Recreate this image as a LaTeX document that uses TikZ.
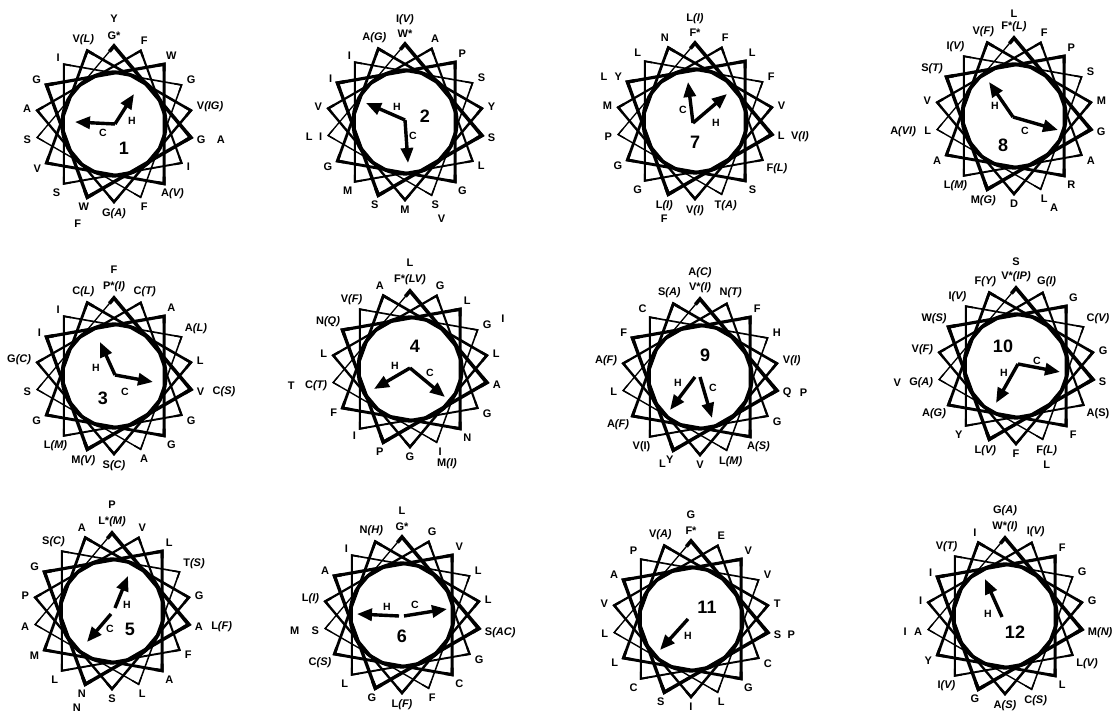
\documentclass[tikz,border=0pt]{standalone}
\usepackage{fontspec}
\setmainfont{Liberation Sans}
\usetikzlibrary{calc,arrows.meta}
\tikzset{
  lbl/.style={inner sep=0pt, font=\bfseries\fontsize{11}{11}\selectfont},
  num/.style={inner sep=0pt, font=\bfseries\fontsize{18}{18}\selectfont},
  hc/.style={inner sep=0pt, font=\bfseries\fontsize{10.5}{10.5}\selectfont},
  vec/.style={line width=3.4pt, -{Triangle[length=15pt,width=12pt]}},
}
\newcommand{\wheelbody}{%
  \foreach \k in {0,...,17} {\coordinate (v\k) at ({90-100*\k}:78);}
  \foreach \k in {0,...,17} {
    \pgfmathtruncatemacro{\kp}{mod(\k+1,18)}
    \pgfmathtruncatemacro{\kpp}{mod(\k+2,18)}
    \pgfmathtruncatemacro{\km}{mod(\k+17,18)}
    \pgfmathsetmacro{\wd}{\k<17 ? 3.6-\k*0.14 : 1.3}
    \draw[line width=\wd pt, line join=miter]
      ($(v\k)!0.06!(v\km)$) -- (v\k) -- (v\kp) -- ($(v\kp)!0.06!(v\kpp)$);
  }
  \draw[line width=3.2pt] (0,0) circle (52pt);
}
\newcommand{\lab}[3]{%
  \pgfmathtruncatemacro{\wth}{90-20*#2}%
  \pgfmathtruncatemacro{\wan}{mod(270-20*#2+720,360)}%
  \node[lbl,anchor=\wan] (#1l#2) at (\wth:84) {#3};}
\newcommand{\olab}[5]{%
  \pgfmathtruncatemacro{\oan}{mod(#3+180,360)}%
  \node[lbl,anchor=\oan] (#1o#2) at ($(#1l#2.#3)+(#3:#4)$) {#5};}
\newcommand{\itp}[1]{\textit{(#1)}}
\begin{document}
\begin{tikzpicture}[x=1pt,y=1pt]
\useasboundingbox (0,0) rectangle (1112,719);

% ---------- Wheel 1
\begin{scope}[shift={(114,595)}]
\wheelbody
\lab{wA}{0}{G*}\lab{wA}{1}{F}\lab{wA}{2}{W}\lab{wA}{3}{G}\lab{wA}{4}{V\itp{IG}}
\lab{wA}{5}{G}\lab{wA}{6}{I}\lab{wA}{7}{A\itp{V}}\lab{wA}{8}{F}\lab{wA}{9}{G\itp{A}}
\lab{wA}{10}{W}\lab{wA}{11}{S}\lab{wA}{12}{V}\lab{wA}{13}{S}\lab{wA}{14}{A}
\lab{wA}{15}{G}\lab{wA}{16}{I}\lab{wA}{17}{V\itp{L}}
\olab{wA}{0}{90}{9}{Y}\olab{wA}{5}{0}{11}{A}\olab{wA}{10}{250}{9}{F}
\coordinate (wAo) at (1,0); \coordinate (wAh) at (20,30); \coordinate (wAc) at (-39,2);
\draw[vec] (wAo) -- (wAh); \draw[vec] (wAo) -- (wAc);
\node[hc] (wAH) at (18,3) {H}; \node[hc] (wAC) at (-11,-9) {C};
\node[num] (wAn) at (10,-24) {1};
\end{scope}

% ---------- Wheel 2
\begin{scope}[shift={(405,597)}]
\wheelbody
\lab{wB}{0}{W*}\lab{wB}{1}{A}\lab{wB}{2}{P}\lab{wB}{3}{S}\lab{wB}{4}{Y}
\lab{wB}{5}{S}\lab{wB}{6}{L}\lab{wB}{7}{G}\lab{wB}{8}{S}\lab{wB}{9}{M}
\lab{wB}{10}{S}\lab{wB}{11}{M}\lab{wB}{12}{G}\lab{wB}{13}{I}\lab{wB}{14}{V}
\lab{wB}{15}{I}\lab{wB}{16}{I}\lab{wB}{17}{A\itp{G}}
\olab{wB}{0}{90}{5}{I\itp{V}}\olab{wB}{8}{295}{6}{V}\olab{wB}{13}{180}{6}{L}
\coordinate (wBo) at (0,2); \coordinate (wBh) at (-39,19); \coordinate (wBc) at (3,-41);
\draw[vec] (wBo) -- (wBh); \draw[vec] (wBo) -- (wBc);
\node[hc] (wBH) at (-8,15) {H}; \node[hc] (wBC) at (8,-14) {C};
\node[num] (wBn) at (20,6) {2};
\end{scope}

% ---------- Wheel 7
\begin{scope}[shift={(695,598)}]
\wheelbody
\lab{wC}{0}{F*}\lab{wC}{1}{F}\lab{wC}{2}{L}\lab{wC}{3}{F}\lab{wC}{4}{V}
\lab{wC}{5}{L}\lab{wC}{6}{F\itp{L}}\lab{wC}{7}{S}\lab{wC}{8}{T\itp{A}}\lab{wC}{9}{V\itp{I}}
\lab{wC}{10}{L\itp{I}}\lab{wC}{11}{G}\lab{wC}{12}{G}\lab{wC}{13}{P}\lab{wC}{14}{M}
\lab{wC}{15}{Y}\lab{wC}{16}{L}\lab{wC}{17}{N}
\olab{wC}{0}{90}{5}{L\itp{I}}\olab{wC}{5}{0}{6}{V\itp{I}}\olab{wC}{10}{270}{4}{F}\olab{wC}{15}{180}{7}{L}
\coordinate (wCo) at (-2,-2); \coordinate (wCh) at (32,27); \coordinate (wCc) at (-7,39);
\draw[vec] (wCo) -- (wCh); \draw[vec] (wCo) -- (wCc);
\node[hc] (wCH) at (21,-2) {H}; \node[hc] (wCC) at (-12,11) {C};
\node[num] (wCn) at (0,-21) {7};
\end{scope}

% ---------- Wheel 8
\begin{scope}[shift={(1014,603)}]
\wheelbody
\lab{wD}{0}{F*\itp{L}}\lab{wD}{1}{F}\lab{wD}{2}{P}\lab{wD}{3}{S}\lab{wD}{4}{M}
\lab{wD}{5}{G}\lab{wD}{6}{A}\lab{wD}{7}{R}\lab{wD}{8}{L}\lab{wD}{9}{D}
\lab{wD}{10}{M\itp{G}}\lab{wD}{11}{L\itp{M}}\lab{wD}{12}{A}\lab{wD}{13}{L}\lab{wD}{14}{V}
\lab{wD}{15}{S\itp{T}}\lab{wD}{16}{I\itp{V}}\lab{wD}{17}{V\itp{F}}
\olab{wD}{0}{90}{4}{L}\olab{wD}{8}{320}{3}{A}\olab{wD}{13}{180}{8}{A\itp{VI}}
\coordinate (wDo) at (-1,-1); \coordinate (wDh) at (-25,34); \coordinate (wDc) at (44,-14);
\draw[vec] (wDo) -- (wDh); \draw[vec] (wDo) -- (wDc);
\node[hc] (wDH) at (-19,10) {H}; \node[hc] (wDC) at (11,-15) {C};
\node[num] (wDn) at (-11,-29) {8};
\end{scope}

% ---------- Wheel 3
\begin{scope}[shift={(114,343)}]
\wheelbody
\lab{wE}{0}{P*\itp{I}}\lab{wE}{1}{C\itp{T}}\lab{wE}{2}{A}\lab{wE}{3}{A\itp{L}}\lab{wE}{4}{L}
\lab{wE}{5}{V}\lab{wE}{6}{G}\lab{wE}{7}{G}\lab{wE}{8}{A}\lab{wE}{9}{S\itp{C}}
\lab{wE}{10}{M\itp{V}}\lab{wE}{11}{L\itp{M}}\lab{wE}{12}{G}\lab{wE}{13}{S}\lab{wE}{14}{G\itp{C}}
\lab{wE}{15}{I}\lab{wE}{16}{I}\lab{wE}{17}{C\itp{L}}
\olab{wE}{0}{90}{8}{F}\olab{wE}{5}{0}{8}{C\itp{S}}
\coordinate (wEo) at (1,1); \coordinate (wEh) at (-14,34); \coordinate (wEc) at (39,-6);
\draw[vec] (wEo) -- (wEh); \draw[vec] (wEo) -- (wEc);
\node[hc] (wEH) at (-18,8) {H}; \node[hc] (wEC) at (11,-16) {C};
\node[num] (wEn) at (-11,-22) {3};
\end{scope}

% ---------- Wheel 4
\begin{scope}[shift={(410,350)}]
\wheelbody
\lab{wF}{0}{F*\itp{LV}}\lab{wF}{1}{G}\lab{wF}{2}{L}\lab{wF}{3}{G}\lab{wF}{4}{L}
\lab{wF}{5}{A}\lab{wF}{6}{G}\lab{wF}{7}{N}\lab{wF}{8}{I}\lab{wF}{9}{G}
\lab{wF}{10}{P}\lab{wF}{11}{I}\lab{wF}{12}{F}\lab{wF}{13}{C\itp{T}}\lab{wF}{14}{L}
\lab{wF}{15}{N\itp{Q}}\lab{wF}{16}{V\itp{F}}\lab{wF}{17}{A}
\olab{wF}{0}{90}{8}{L}\olab{wF}{3}{20}{10}{I}\olab{wF}{8}{300}{4}{M\itp{I}}\olab{wF}{13}{180}{10}{T}
\coordinate (wFo) at (0,1); \coordinate (wFh) at (-36,-20); \coordinate (wFc) at (35,-28);
\draw[vec] (wFo) -- (wFh); \draw[vec] (wFo) -- (wFc);
\node[hc] (wFH) at (-15,3) {H}; \node[hc] (wFC) at (20,-4) {C};
\node[num] (wFn) at (5,23) {4};
\end{scope}

% ---------- Wheel 9
\begin{scope}[shift={(700,342)}]
\wheelbody
\lab{wG}{0}{V*\itp{I}}\lab{wG}{1}{N\itp{T}}\lab{wG}{2}{F}\lab{wG}{3}{H}\lab{wG}{4}{V\itp{I}}
\lab{wG}{5}{Q}\lab{wG}{6}{G}\lab{wG}{7}{A\itp{S}}\lab{wG}{8}{L\itp{M}}\lab{wG}{9}{V}
\lab{wG}{10}{Y}\lab{wG}{11}{V(I)}\lab{wG}{12}{A\itp{F}}\lab{wG}{13}{L}\lab{wG}{14}{A\itp{F}}
\lab{wG}{15}{F}\lab{wG}{16}{C}\lab{wG}{17}{S\itp{A}}
\olab{wG}{0}{90}{4}{A\itp{C}}\olab{wG}{5}{0}{8}{P}\olab{wG}{10}{210}{0}{L}
\coordinate (wGoh) at (-5,0); \coordinate (wGh) at (-30,-33);
\coordinate (wGoc) at (0,0); \coordinate (wGc) at (12,-41);
\draw[vec] (wGoh) -- (wGh); \draw[vec] (wGoc) -- (wGc);
\node[hc] (wGH) at (-22,-6) {H}; \node[hc] (wGC) at (13,-11) {C};
\node[num] (wGn) at (5,22) {9};
\end{scope}

% ---------- Wheel 10
\begin{scope}[shift={(1016,353)}]
\wheelbody
\lab{wH}{0}{V*\itp{IP}}\lab{wH}{1}{G\itp{I}}\lab{wH}{2}{G}\lab{wH}{3}{C\itp{V}}\lab{wH}{4}{G}
\lab{wH}{5}{S}\lab{wH}{6}{A(S)}\lab{wH}{7}{F}\lab{wH}{8}{F\itp{L}}\lab{wH}{9}{F}
\lab{wH}{10}{L\itp{V}}\lab{wH}{11}{Y}\lab{wH}{12}{A\itp{G}}\lab{wH}{13}{G\itp{A}}\lab{wH}{14}{V\itp{F}}
\lab{wH}{15}{W\itp{S}}\lab{wH}{16}{I\itp{V}}\lab{wH}{17}{F\itp{Y}}
\olab{wH}{0}{90}{6}{S}\olab{wH}{8}{270}{5}{L}\olab{wH}{13}{180}{8}{V}
\coordinate (wHo) at (2,2); \coordinate (wHh) at (-20,-37); \coordinate (wHc) at (44,-6);
\draw[vec] (wHo) -- (wHh); \draw[vec] (wHo) -- (wHc);
\node[hc] (wHH) at (-12,-7) {H}; \node[hc] (wHC) at (21,5) {C};
\node[num] (wHn) at (-13,20) {10};
\end{scope}

% ---------- Wheel 5
\begin{scope}[shift={(112,108)}]
\wheelbody
\lab{wI}{0}{L*\itp{M}}\lab{wI}{1}{V}\lab{wI}{2}{L}\lab{wI}{3}{T\itp{S}}\lab{wI}{4}{G}
\lab{wI}{5}{A}\lab{wI}{6}{F}\lab{wI}{7}{A}\lab{wI}{8}{L}\lab{wI}{9}{S}
\lab{wI}{10}{N}\lab{wI}{11}{L}\lab{wI}{12}{M}\lab{wI}{13}{A}\lab{wI}{14}{P}
\lab{wI}{15}{G}\lab{wI}{16}{S\itp{C}}\lab{wI}{17}{A}
\olab{wI}{0}{90}{8}{P}\olab{wI}{5}{0}{8}{L\itp{F}}\olab{wI}{10}{250}{6}{N}
\coordinate (wIoh) at (3,3); \coordinate (wIh) at (16,35);
\coordinate (wIoc) at (-1,-3); \coordinate (wIc) at (-25,-31);
\draw[vec] (wIoh) -- (wIh); \draw[vec] (wIoc) -- (wIc);
\node[hc] (wIH) at (15,6) {H}; \node[hc] (wIC) at (-2,-18) {C};
\node[num] (wIn) at (18,-18) {5};
\end{scope}

% ---------- Wheel 6
\begin{scope}[shift={(402,104)}]
\wheelbody
\lab{wJ}{0}{G*}\lab{wJ}{1}{G}\lab{wJ}{2}{V}\lab{wJ}{3}{L}\lab{wJ}{4}{L}
\lab{wJ}{5}{S\itp{AC}}\lab{wJ}{6}{G}\lab{wJ}{7}{C}\lab{wJ}{8}{F}\lab{wJ}{9}{L\itp{F}}
\lab{wJ}{10}{G}\lab{wJ}{11}{L}\lab{wJ}{12}{C\itp{S}}\lab{wJ}{13}{S}\lab{wJ}{14}{L\itp{I}}
\lab{wJ}{15}{A}\lab{wJ}{16}{I}\lab{wJ}{17}{N\itp{H}}
\olab{wJ}{0}{90}{8}{L}\olab{wJ}{13}{180}{12}{M}
\coordinate (wJoh) at (-3,-1); \coordinate (wJh) at (-45,1);
\coordinate (wJoc) at (2,-1); \coordinate (wJc) at (45,6);
\draw[vec] (wJoh) -- (wJh); \draw[vec] (wJoc) -- (wJc);
\node[hc] (wJH) at (-15,8) {H}; \node[hc] (wJC) at (13,10) {C};
\node[num] (wJn) at (0,-21) {6};
\end{scope}

% ---------- Wheel 11
\begin{scope}[shift={(691,100)}]
\wheelbody
\lab{wK}{0}{F*}\lab{wK}{1}{E}\lab{wK}{2}{V}\lab{wK}{3}{V}\lab{wK}{4}{T}
\lab{wK}{5}{S}\lab{wK}{6}{C}\lab{wK}{7}{G}\lab{wK}{8}{L}\lab{wK}{9}{I}
\lab{wK}{10}{S}\lab{wK}{11}{C}\lab{wK}{12}{L}\lab{wK}{13}{L}\lab{wK}{14}{V}
\lab{wK}{15}{A}\lab{wK}{16}{P}\lab{wK}{17}{V\itp{A}}
\olab{wK}{0}{90}{8}{G}\olab{wK}{5}{0}{6}{P}
\coordinate (wKo) at (-3,0); \coordinate (wKh) at (-31,-31);
\draw[vec] (wKo) -- (wKh);
\node[hc] (wKH) at (-3,-17) {H};
\node[num] (wKn) at (16,12) {11};
\end{scope}

% ---------- Wheel 12
\begin{scope}[shift={(1005,103)}]
\wheelbody
\lab{wL}{0}{W*\itp{I}}\lab{wL}{1}{I\itp{V}}\lab{wL}{2}{F}\lab{wL}{3}{G}\lab{wL}{4}{G}
\lab{wL}{5}{M\itp{N}}\lab{wL}{6}{L\itp{V}}\lab{wL}{7}{L}\lab{wL}{8}{C\itp{S}}\lab{wL}{9}{A\itp{S}}
\lab{wL}{10}{G}\lab{wL}{11}{I\itp{V}}\lab{wL}{12}{Y}\lab{wL}{13}{A}\lab{wL}{14}{I}
\lab{wL}{15}{I}\lab{wL}{16}{V\itp{T}}\lab{wL}{17}{I}
\olab{wL}{0}{90}{5}{G\itp{A}}\olab{wL}{13}{180}{7}{I}
\coordinate (wLo) at (-3,-1); \coordinate (wLh) at (-20,37);
\draw[vec] (wLo) -- (wLh);
\node[hc] (wLH) at (-17,2) {H};
\node[num] (wLn) at (10,-16) {12};
\end{scope}
\end{tikzpicture}
\end{document}
